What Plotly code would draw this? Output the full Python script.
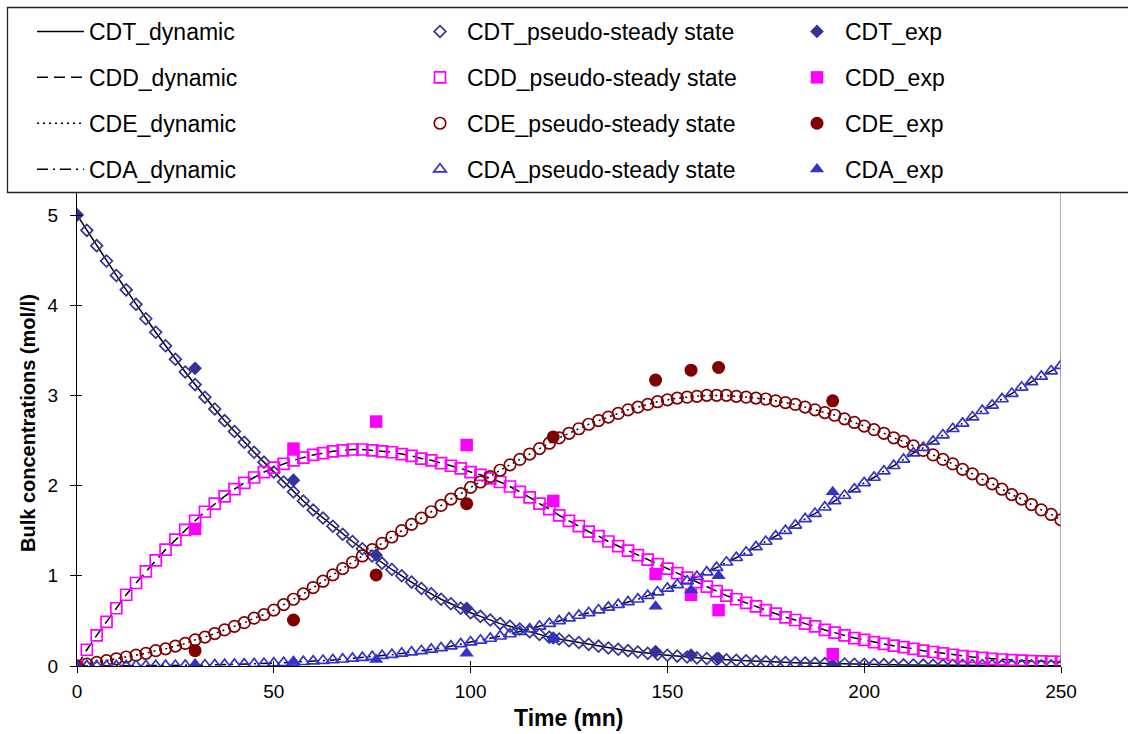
import plotly.graph_objects as go

# Sampling times of the simulated profiles (mn)
TIME = [
    0, 2.5, 5, 7.5, 10, 12.5, 15, 17.5, 20, 22.5,
    25, 27.5, 30, 32.5, 35, 37.5, 40, 42.5, 45, 47.5,
    50, 52.5, 55, 57.5, 60, 62.5, 65, 67.5, 70, 72.5,
    75, 77.5, 80, 82.5, 85, 87.5, 90, 92.5, 95, 97.5,
    100, 102.5, 105, 107.5, 110, 112.5, 115, 117.5, 120, 122.5,
    125, 127.5, 130, 132.5, 135, 137.5, 140, 142.5, 145, 147.5,
    150, 152.5, 155, 157.5, 160, 162.5, 165, 167.5, 170, 172.5,
    175, 177.5, 180, 182.5, 185, 187.5, 190, 192.5, 195, 197.5,
    200, 202.5, 205, 207.5, 210, 212.5, 215, 217.5, 220, 222.5,
    225, 227.5, 230, 232.5, 235, 237.5, 240, 242.5, 245, 247.5,
    250,
]

# Simulated bulk concentrations (mol/l)
CDT = [
    5.00, 4.83, 4.66, 4.49, 4.33, 4.17, 4.01, 3.85, 3.70, 3.55,
    3.40, 3.26, 3.12, 2.98, 2.85, 2.72, 2.60, 2.48, 2.37, 2.26,
    2.15, 2.04, 1.93, 1.83, 1.73, 1.64, 1.55, 1.46, 1.38, 1.30,
    1.22, 1.14, 1.07, 1.00, 0.93, 0.86, 0.80, 0.74, 0.69, 0.64,
    0.59, 0.55, 0.51, 0.47, 0.44, 0.41, 0.38, 0.35, 0.32, 0.30,
    0.28, 0.26, 0.24, 0.22, 0.20, 0.185, 0.17, 0.155, 0.14, 0.13,
    0.12, 0.11, 0.10, 0.09, 0.083, 0.076, 0.069, 0.063, 0.057, 0.052,
    0.047, 0.043, 0.039, 0.035, 0.032, 0.029, 0.026, 0.024, 0.022, 0.020,
    0.018, 0.016, 0.015, 0.013, 0.012, 0.011, 0.010, 0.009, 0.008, 0.007,
    0.007, 0.006, 0.005, 0.005, 0.004, 0.004, 0.003, 0.003, 0.003, 0.002,
    0.002,
]
CDD = [
    0.00, 0.18, 0.34, 0.49, 0.64, 0.79, 0.92, 1.05, 1.17, 1.29,
    1.40, 1.51, 1.61, 1.71, 1.80, 1.88, 1.96, 2.03, 2.09, 2.15,
    2.20, 2.24, 2.28, 2.31, 2.34, 2.36, 2.38, 2.39, 2.40, 2.40,
    2.39, 2.38, 2.37, 2.35, 2.33, 2.30, 2.28, 2.25, 2.22, 2.19,
    2.15, 2.12, 2.08, 2.04, 1.99, 1.93, 1.87, 1.80, 1.74, 1.67,
    1.61, 1.55, 1.49, 1.44, 1.38, 1.33, 1.28, 1.23, 1.18, 1.13,
    1.08, 1.03, 0.98, 0.93, 0.88, 0.83, 0.78, 0.74, 0.70, 0.66,
    0.62, 0.58, 0.54, 0.51, 0.47, 0.44, 0.40, 0.37, 0.34, 0.31,
    0.29, 0.265, 0.245, 0.225, 0.21, 0.19, 0.17, 0.155, 0.14, 0.125,
    0.11, 0.10, 0.09, 0.08, 0.072, 0.066, 0.060, 0.055, 0.051, 0.048,
    0.045,
]
CDE = [
    0.00, 0.02, 0.04, 0.06, 0.08, 0.10, 0.12, 0.14, 0.17, 0.19,
    0.22, 0.25, 0.29, 0.32, 0.36, 0.40, 0.44, 0.48, 0.53, 0.57,
    0.62, 0.68, 0.74, 0.80, 0.87, 0.94, 1.01, 1.08, 1.15, 1.22,
    1.29, 1.36, 1.43, 1.50, 1.57, 1.64, 1.71, 1.78, 1.85, 1.91,
    1.98, 2.04, 2.10, 2.17, 2.23, 2.29, 2.35, 2.41, 2.47, 2.53,
    2.58, 2.63, 2.68, 2.72, 2.76, 2.80, 2.84, 2.87, 2.90, 2.93,
    2.95, 2.97, 2.98, 2.99, 3.00, 3.00, 3.00, 2.99, 2.98, 2.97,
    2.96, 2.94, 2.92, 2.90, 2.87, 2.84, 2.81, 2.78, 2.74, 2.70,
    2.66, 2.62, 2.58, 2.53, 2.49, 2.44, 2.39, 2.34, 2.29, 2.24,
    2.18, 2.13, 2.07, 2.02, 1.96, 1.90, 1.85, 1.79, 1.73, 1.68,
    1.62,
]
CDA = [
    0.000, 0.000, 0.000, 0.000, 0.001, 0.001, 0.002, 0.002, 0.003, 0.004,
    0.005, 0.006, 0.008, 0.010, 0.012, 0.014, 0.017, 0.020, 0.023, 0.027,
    0.031, 0.036, 0.041, 0.047, 0.053, 0.060, 0.067, 0.075, 0.084, 0.093,
    0.103, 0.114, 0.126, 0.139, 0.153, 0.168, 0.184, 0.200, 0.220, 0.245,
    0.265, 0.285, 0.305, 0.330, 0.355, 0.380, 0.410, 0.440, 0.470, 0.500,
    0.53, 0.56, 0.59, 0.62, 0.65, 0.68, 0.71, 0.74, 0.78, 0.82,
    0.86, 0.90, 0.94, 0.99, 1.04, 1.09, 1.15, 1.20, 1.26, 1.32,
    1.38, 1.44, 1.50, 1.56, 1.63, 1.69, 1.76, 1.83, 1.89, 1.96,
    2.03, 2.09, 2.16, 2.22, 2.29, 2.36, 2.42, 2.49, 2.56, 2.63,
    2.69, 2.76, 2.83, 2.89, 2.96, 3.02, 3.09, 3.15, 3.21, 3.27,
    3.33,
]

# Experimental samples
EXP_TIME = [0, 30, 55, 76, 99, 121, 147, 156, 163, 192]
CDT_EXP = [5.00, 3.30, 2.06, 1.23, 0.64, 0.31, 0.16, 0.12, 0.085, 0.01]
CDD_EXP = [0.00, 1.52, 2.41, 2.71, 2.45, 1.83, 1.02, 0.79, 0.62, 0.13]
CDE_EXP = [0.00, 0.17, 0.51, 1.01, 1.80, 2.54, 3.17, 3.28, 3.31, 2.94]
CDA_EXP = [0.00, 0.02, 0.05, 0.07, 0.14, 0.30, 0.66, 0.84, 1.00, 1.93]

X_TICKS = [0, 50, 100, 150, 200, 250]
Y_TICKS = [0, 1, 2, 3, 4, 5]

FONT = "Liberation Sans, Arial, Helvetica, sans-serif"
NAVY = "#333399"
MAGENTA = "#FF00FF"
MAROON = "#800000"
BLUE = "#3333CC"

W, H = 1128, 734
L, R, T, B = 77, 67, 193, 68

fig = go.Figure()

# dynamic model: black lines with different dash patterns
dyn = [
    ("CDT_dynamic", CDT, "solid"),
    ("CDD_dynamic", CDD, "11px,6px"),
    ("CDE_dynamic", CDE, "2px,4px"),
    ("CDA_dynamic", CDA, "11px,5px,2px,5px"),
]
for name, vals, dash in dyn:
    fig.add_trace(go.Scatter(
        x=TIME, y=vals, mode="lines", name=name,
        line=dict(color="black", width=1.5, dash=dash),
        legend="legend", legendgroup=name,
    ))

# pseudo-steady state model: open markers
pss = [
    ("CDT_pseudo-steady state", CDT, "diamond-open", NAVY, 9),
    ("CDD_pseudo-steady state", CDD, "square-open", MAGENTA, 11),
    ("CDE_pseudo-steady state", CDE, "circle-open", MAROON, 11.5),
    ("CDA_pseudo-steady state", CDA, "triangle-up-open", BLUE, 11),
]
for name, vals, sym, col, size in pss:
    fig.add_trace(go.Scatter(
        x=TIME, y=vals, mode="markers", name=name,
        marker=dict(symbol=sym, color=col, size=size, line=dict(width=1.7, color=col)),
        legend="legend2", legendgroup=name,
    ))

# experimental points: filled markers
exp = [
    ("CDT_exp", CDT_EXP, "diamond", NAVY, 10.5),
    ("CDD_exp", CDD_EXP, "square", MAGENTA, 12.5),
    ("CDE_exp", CDE_EXP, "circle", MAROON, 13),
    ("CDA_exp", CDA_EXP, "triangle-up", BLUE, 12.5),
]
for name, vals, sym, col, size in exp:
    fig.add_trace(go.Scatter(
        x=EXP_TIME, y=vals, mode="markers", name=name,
        marker=dict(symbol=sym, color=col, size=size, line=dict(width=0)),
        legend="legend3", legendgroup=name,
    ))

# empty trace carrying the inner half of the crossing tick marks
fig.add_trace(go.Scatter(x=[], y=[], xaxis="x2", yaxis="y2", showlegend=False,
                         hoverinfo="skip"))

plot_w = W - L - R
plot_h = H - T - B
y_top = plot_h / 90.2

axis_common = dict(showgrid=False, zeroline=False, linecolor="black", linewidth=1.4,
                   ticks="outside", ticklen=6, tickwidth=1.2, tickcolor="black",
                   tickfont=dict(family=FONT, size=19, color="black"))

legend_common = dict(xref="container", yref="container", xanchor="left", yanchor="top",
                     orientation="v", bgcolor="rgba(0,0,0,0)", borderwidth=0,
                     font=dict(family=FONT, size=23, color="black"),
                     tracegroupgap=13, traceorder="grouped")

fig.update_layout(
    width=W, height=H,
    margin=dict(l=L, r=R, t=T, b=B, pad=0, autoexpand=False),
    paper_bgcolor="white", plot_bgcolor="white",
    font=dict(family=FONT, color="black"),
    xaxis=dict(range=[0, 250], tickvals=X_TICKS, showline=True, ticklabelstandoff=2,
               **axis_common),
    yaxis=dict(range=[0, y_top], tickvals=Y_TICKS, showline=True, ticklabelstandoff=8,
               **axis_common),
    xaxis2=dict(overlaying="x", range=[0, 250], tickvals=X_TICKS, showticklabels=False,
                ticks="inside", ticklen=5, tickwidth=1.2, tickcolor="black",
                showgrid=False, zeroline=False, showline=False),
    yaxis2=dict(overlaying="y", range=[0, y_top], tickvals=Y_TICKS, showticklabels=False,
                ticks="inside", ticklen=5, tickwidth=1.2, tickcolor="black",
                showgrid=False, zeroline=False, showline=False),
    legend=dict(x=32 / W, y=1 - 10 / H, itemwidth=47, **legend_common),
    legend2=dict(x=413 / W, y=1 - 10 / H, itemwidth=44, **legend_common),
    legend3=dict(x=789 / W, y=1 - 10 / H, itemwidth=46, **legend_common),
    showlegend=True,
)

# axis titles
fig.add_annotation(text="<b>Time (mn)</b>", xref="paper", yref="paper",
                   x=(568 - L) / plot_w, y=-(718 - (H - B)) / plot_h,
                   xanchor="center", yanchor="middle", showarrow=False,
                   font=dict(family=FONT, size=23, color="black"))
fig.add_annotation(text="<b>Bulk concentrations (mol/l)</b>", xref="paper", yref="paper",
                   x=-(L - 28) / plot_w, y=(H - B - 423) / plot_h, textangle=-90,
                   xanchor="center", yanchor="middle", showarrow=False,
                   font=dict(family=FONT, size=20, color="black"))

# plot-area right edge and the frame around the legend block
fig.add_shape(type="line", xref="x", yref="paper", x0=250, x1=250, y0=0, y1=1,
              line=dict(color="#808080", width=1.3))
fig.add_shape(type="rect", xref="paper", yref="paper",
              x0=(7.5 - L) / plot_w, x1=(W + 10 - L) / plot_w,
              y0=(H - B - 192.5) / plot_h, y1=(H - B - 7.5) / plot_h,
              line=dict(color="#222222", width=1.3), fillcolor="rgba(0,0,0,0)")

fig.write_html("out.html")
